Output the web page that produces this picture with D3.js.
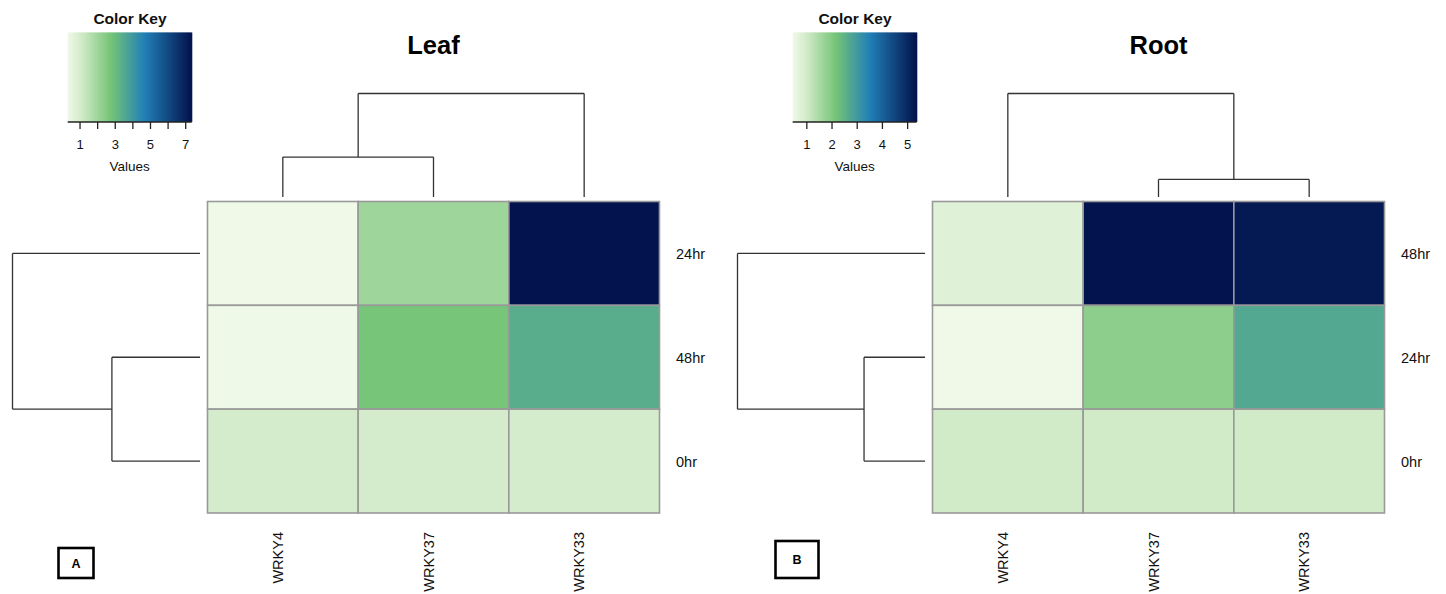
<!DOCTYPE html>
<html>
<head>
<meta charset="utf-8">
<script src="https://cdn.jsdelivr.net/npm/d3@7"></script>
<style>
  html, body { margin: 0; padding: 0; background: #fff; }
  svg { display: block; font-family: "Liberation Sans", Arial, sans-serif; }
</style>
</head>
<body>
<svg id="chart" width="1446" height="594"></svg>
<script>
// Genes (columns) shared by both panels
const genes = ["WRKY4", "WRKY37", "WRKY33"];

// Leaf panel: rows top to bottom and expression values (rows x genes)
const leafRows = ["24hr", "48hr", "0hr"];
const leafValues = [
  [0.30, 2.03, 7.34],
  [0.32, 2.73, 3.40],
  [1.00, 1.00, 1.00]
];
const leafTicks = [1, 2, 3, 4, 5, 6, 7];
const leafTickLabels = [1, 3, 5, 7];

// Root panel
const rootRows = ["48hr", "24hr", "0hr"];
const rootValues = [
  [0.74, 5.36, 5.25],
  [0.44, 1.85, 2.70],
  [1.00, 1.00, 1.00]
];
const rootTicks = [1, 2, 3, 4, 5];
const rootTickLabels = [1, 2, 3, 4, 5];

// Colour ramp (light green -> green -> blue -> navy), spread over each panel's value range
const rampStops = [0, 0.12, 0.35, 0.62, 1];
const rampColors = ["#f0f9e8", "#cfe9c6", "#74c476", "#2280b8", "#03134d"];

const svg = d3.select("#chart");

// Complete-linkage agglomerative clustering on Euclidean distance
function cluster(vectors) {
  const dist = (a, b) => Math.sqrt(d3.sum(a, (v, i) => (v - b[i]) ** 2));
  let nodes = vectors.map((v, i) => ({ leaf: i, members: [i], h: 0 }));
  while (nodes.length > 1) {
    let best = null;
    for (let i = 0; i < nodes.length; i++) {
      for (let j = i + 1; j < nodes.length; j++) {
        let d = 0;
        nodes[i].members.forEach(a => nodes[j].members.forEach(b => {
          d = Math.max(d, dist(vectors[a], vectors[b]));
        }));
        if (!best || d < best.d) best = { i, j, d };
      }
    }
    const a = nodes[best.i], b = nodes[best.j];
    const merged = { children: [a, b], members: a.members.concat(b.members), h: best.d };
    nodes = nodes.filter((n, k) => k !== best.i && k !== best.j);
    nodes.push(merged);
  }
  return nodes[0];
}

// Draw an elbow dendrogram; pos(i) gives the leaf position, hs maps height to pixels
function drawDendro(g, root, pos, hs, vertical) {
  const segs = [];
  function place(n) {
    if (n.children) {
      n.children.forEach(place);
      n.p = d3.mean(n.children, c => c.p);
      const [a, b] = n.children;
      segs.push([a.p, hs(a.h), a.p, hs(n.h)]);
      segs.push([b.p, hs(b.h), b.p, hs(n.h)]);
      segs.push([a.p, hs(n.h), b.p, hs(n.h)]);
    } else {
      n.p = pos(n.leaf);
    }
  }
  place(root);
  g.selectAll("line").data(segs).join("line")
    .attr("x1", d => vertical ? d[0] : d[1])
    .attr("y1", d => vertical ? d[1] : d[0])
    .attr("x2", d => vertical ? d[2] : d[3])
    .attr("y2", d => vertical ? d[3] : d[2])
    .attr("stroke", "#333")
    .attr("stroke-width", 1.3);
}

function drawPanel(dx, title, tag, tagBox, rows, values, ticks, tickLabels) {
  const g = svg.append("g").attr("transform", `translate(${dx},0)`);
  const flat = values.flat();
  const [vmin, vmax] = d3.extent(flat);
  const color = d3.scaleLinear()
    .domain(rampStops.map(t => vmin + t * (vmax - vmin)))
    .range(rampColors)
    .interpolate(d3.interpolateRgb);

  // Colour key
  const kx = d3.scaleLinear().domain([vmin, vmax]).range([67.7, 191.7]);
  const key = g.append("g");
  const nSteps = 124;
  const steps = d3.range(nSteps).map(i => vmin + (i + 0.5) / nSteps * (vmax - vmin));
  const stepW = (kx.range()[1] - kx.range()[0]) / nSteps;
  key.selectAll("rect").data(steps).join("rect")
    .attr("x", d => kx(d) - stepW / 2)
    .attr("y", 32.5)
    .attr("width", stepW + 0.6)
    .attr("height", 89.5)
    .attr("fill", d => color(d));
  key.append("line")
    .attr("x1", kx.range()[0]).attr("x2", kx.range()[1])
    .attr("y1", 122).attr("y2", 122)
    .attr("stroke", "#222").attr("stroke-width", 1.3);
  key.selectAll(".tk").data(ticks).join("line").attr("class", "tk")
    .attr("x1", d => kx(d)).attr("x2", d => kx(d))
    .attr("y1", 122).attr("y2", 129)
    .attr("stroke", "#222").attr("stroke-width", 1.3);
  key.selectAll(".tl").data(tickLabels).join("text").attr("class", "tl")
    .attr("x", d => kx(d)).attr("y", 149)
    .attr("text-anchor", "middle")
    .attr("font-size", 13)
    .attr("fill", "#111")
    .text(d => d);
  key.append("text")
    .attr("x", 129.7).attr("y", 171)
    .attr("text-anchor", "middle").attr("font-size", 13.5).attr("fill", "#111")
    .text("Values");
  key.append("text")
    .attr("x", 130).attr("y", 23.5)
    .attr("text-anchor", "middle").attr("font-size", 15.5).attr("font-weight", "bold")
    .attr("fill", "#111")
    .text("Color Key");

  // Title
  g.append("text")
    .attr("x", 433.5).attr("y", 54)
    .attr("text-anchor", "middle").attr("font-size", 25.5).attr("font-weight", "bold")
    .attr("fill", "#000")
    .text(title);

  // Heatmap cells
  const x = d3.scaleBand().domain(genes).range([207.5, 659.5]);
  const y = d3.scaleBand().domain(rows).range([201.5, 513]);
  const cells = [];
  rows.forEach((r, i) => genes.forEach((c, j) => cells.push({ r, c, v: values[i][j] })));
  g.append("g").selectAll("rect").data(cells).join("rect")
    .attr("x", d => x(d.c)).attr("y", d => y(d.r))
    .attr("width", x.bandwidth()).attr("height", y.bandwidth())
    .attr("fill", d => color(d.v))
    .attr("stroke", "#999").attr("stroke-width", 1.6);

  // Row labels
  g.append("g").selectAll("text").data(rows).join("text")
    .attr("x", 676).attr("y", d => y(d) + y.bandwidth() / 2 + 6)
    .attr("font-size", 14.5).attr("fill", "#111")
    .text(d => d);

  // Column labels (rotated)
  g.append("g").selectAll("text").data(genes).join("text")
    .attr("transform", d => `translate(${x(d) + x.bandwidth() / 2},532) rotate(-90)`)
    .attr("text-anchor", "end")
    .attr("font-size", 14.5).attr("fill", "#111")
    .text(d => d);

  // Column dendrogram (genes clustered over the time rows)
  const colVectors = genes.map((_, j) => values.map(row => row[j]));
  const colTree = cluster(colVectors);
  const colH = d3.scaleLinear().domain([0, colTree.h]).range([197, 93.5]);
  drawDendro(g.append("g"), colTree, i => x(genes[i]) + x.bandwidth() / 2, colH, true);

  // Row dendrogram
  const rowTree = cluster(values);
  const rowH = d3.scaleLinear().domain([0, rowTree.h]).range([200, 12.5]);
  drawDendro(g.append("g"), rowTree, i => y(rows[i]) + y.bandwidth() / 2, rowH, false);

  // Panel tag box
  const [bx, by, bw, bh] = tagBox;
  const tg = g.append("g");
  tg.append("rect")
    .attr("x", bx).attr("y", by).attr("width", bw).attr("height", bh)
    .attr("fill", "#fff").attr("stroke", "#000").attr("stroke-width", 2.6);
  tg.append("text")
    .attr("x", bx + bw / 2).attr("y", by + bh / 2 + 4.5)
    .attr("text-anchor", "middle").attr("font-size", 12.5).attr("font-weight", "bold")
    .attr("fill", "#000")
    .text(tag);
}

drawPanel(0, "Leaf", "A", [58.5, 548, 35, 30], leafRows, leafValues, leafTicks, leafTickLabels);
drawPanel(725, "Root", "B", [50.5, 541, 43, 37], rootRows, rootValues, rootTicks, rootTickLabels);
</script>
</body>
</html>
